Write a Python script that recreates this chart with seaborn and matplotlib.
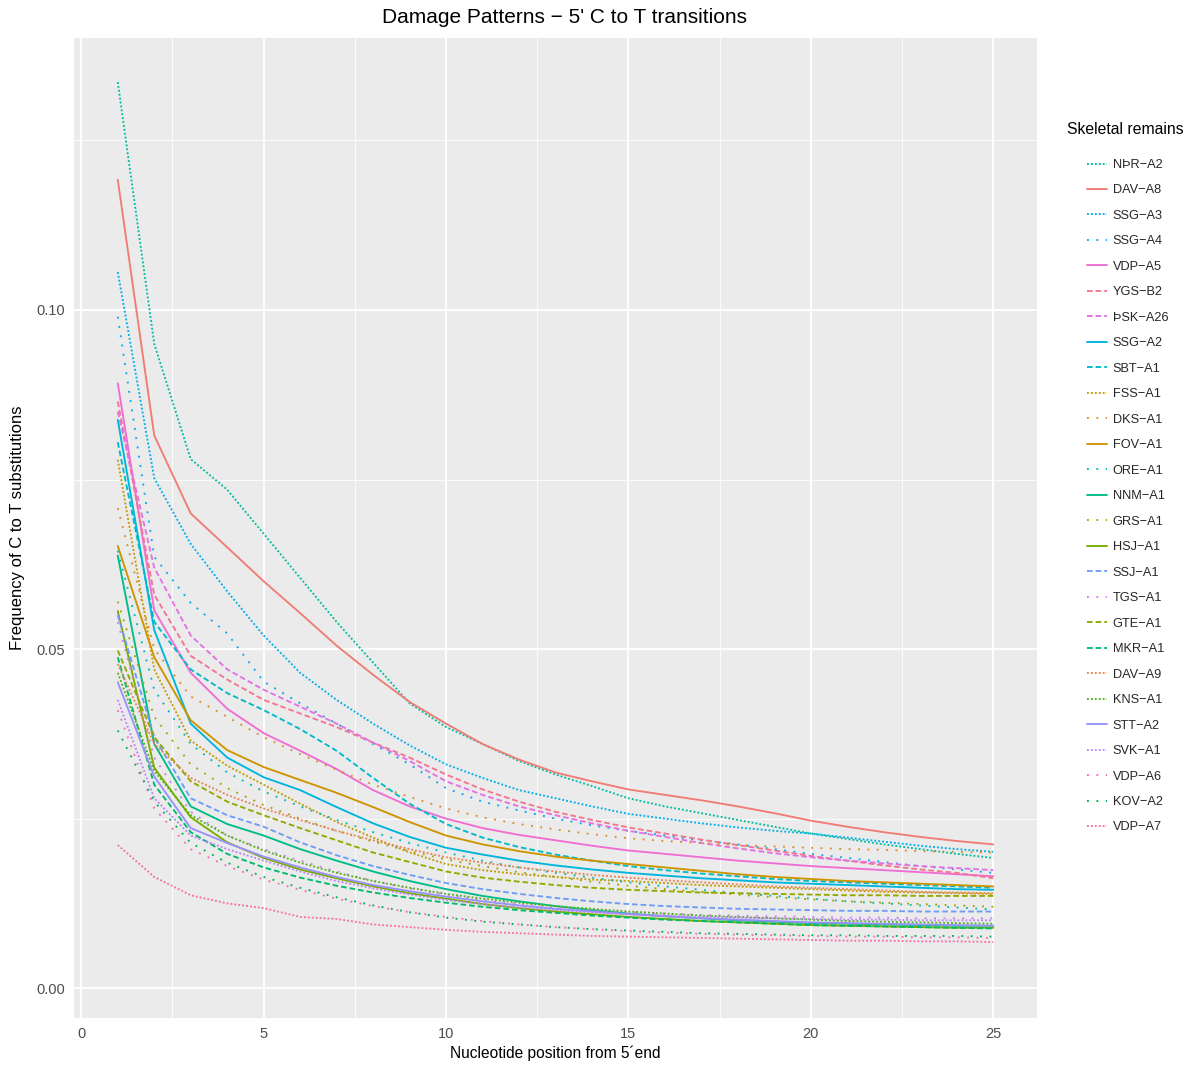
import numpy as np
import pandas as pd
import matplotlib
matplotlib.use("Agg")
import matplotlib.pyplot as plt
import seaborn as sns
from matplotlib.ticker import FixedLocator

# ---------------- data ----------------
positions = list(range(1, 26))

# legend order (descending frequency at position 1)
samples = ["NÞR-A2", "DAV-A8", "SSG-A3", "SSG-A4", "VDP-A5", "YGS-B2", "ÞSK-A26",
           "SSG-A2", "SBT-A1", "FSS-A1", "DKS-A1", "FOV-A1", "ORE-A1", "NNM-A1",
           "GRS-A1", "HSJ-A1", "SSJ-A1", "TGS-A1", "GTE-A1", "MKR-A1", "DAV-A9",
           "KNS-A1", "STT-A2", "SVK-A1", "VDP-A6", "KOV-A2", "VDP-A7"]

# factor order used for colour assignment (alphabetical, Þ collated as "th")
color_order = ["DAV-A8", "DAV-A9", "DKS-A1", "FOV-A1", "FSS-A1", "GRS-A1", "GTE-A1",
               "HSJ-A1", "KNS-A1", "KOV-A2", "MKR-A1", "NNM-A1", "NÞR-A2", "ORE-A1",
               "SBT-A1", "SSG-A2", "SSG-A3", "SSG-A4", "SSJ-A1", "STT-A2", "SVK-A1",
               "TGS-A1", "ÞSK-A26", "VDP-A5", "VDP-A6", "VDP-A7", "YGS-B2"]

nthr_a2 = [0.1336, 0.0950, 0.0780, 0.0735, 0.0670, 0.0605, 0.0540, 0.0480, 0.0420, 0.0385,
           0.0360, 0.0335, 0.0315, 0.0298, 0.0280, 0.0268, 0.0258, 0.0248, 0.0238, 0.0228,
           0.0220, 0.0212, 0.0205, 0.0198, 0.0192]
dav_a8 = [0.1192, 0.0815, 0.0700, 0.0650, 0.0600, 0.0553, 0.0505, 0.0462, 0.0422, 0.0390,
          0.0360, 0.0337, 0.0318, 0.0305, 0.0293, 0.0285, 0.0277, 0.0268, 0.0258, 0.0247,
          0.0238, 0.0230, 0.0223, 0.0217, 0.0212]
ssg_a3 = [0.1056, 0.0752, 0.0655, 0.0585, 0.0520, 0.0465, 0.0425, 0.0390, 0.0358, 0.0330,
          0.0310, 0.0292, 0.0280, 0.0268, 0.0257, 0.0250, 0.0243, 0.0237, 0.0232, 0.0228,
          0.0222, 0.0216, 0.0210, 0.0205, 0.0201]
ssg_a4 = [0.0990, 0.0636, 0.0568, 0.0523, 0.0452, 0.0420, 0.0390, 0.0360, 0.0330, 0.0295,
          0.0275, 0.0262, 0.0250, 0.0240, 0.0232, 0.0225, 0.0218, 0.0212, 0.0205, 0.0198,
          0.0192, 0.0186, 0.0180, 0.0175, 0.0170]
vdp_a5 = [0.0892, 0.0557, 0.0465, 0.0412, 0.0376, 0.0350, 0.0323, 0.0292, 0.0268, 0.0250,
          0.0236, 0.0226, 0.0218, 0.0210, 0.0203, 0.0198, 0.0193, 0.0188, 0.0184, 0.0180,
          0.0177, 0.0174, 0.0171, 0.0168, 0.0165]
ygs_b2 = [0.0865, 0.0580, 0.0490, 0.0455, 0.0425, 0.0405, 0.0385, 0.0362, 0.0340, 0.0315,
          0.0293, 0.0275, 0.0260, 0.0248, 0.0237, 0.0228, 0.0219, 0.0211, 0.0203, 0.0195,
          0.0188, 0.0181, 0.0175, 0.0170, 0.0162]
thsk_a26 = [0.0850, 0.0620, 0.0520, 0.0470, 0.0440, 0.0415, 0.0390, 0.0362, 0.0335, 0.0305,
            0.0285, 0.0268, 0.0255, 0.0243, 0.0232, 0.0223, 0.0214, 0.0206, 0.0199, 0.0193,
            0.0188, 0.0184, 0.0180, 0.0177, 0.0174]
ssg_a2 = [0.0838, 0.0528, 0.0390, 0.0340, 0.0311, 0.0292, 0.0267, 0.0243, 0.0223, 0.0207,
          0.0197, 0.0188, 0.0181, 0.0175, 0.0170, 0.0166, 0.0162, 0.0159, 0.0156, 0.0154,
          0.0152, 0.0150, 0.0148, 0.0146, 0.0145]
sbt_a1 = [0.0805, 0.0540, 0.0470, 0.0435, 0.0410, 0.0382, 0.0350, 0.0310, 0.0272, 0.0242,
          0.0222, 0.0208, 0.0197, 0.0188, 0.0180, 0.0174, 0.0169, 0.0165, 0.0161, 0.0158,
          0.0156, 0.0154, 0.0152, 0.0150, 0.0148]
fss_a1 = [0.0779, 0.0470, 0.0365, 0.0328, 0.0300, 0.0272, 0.0245, 0.0222, 0.0200, 0.0183,
          0.0174, 0.0168, 0.0164, 0.0160, 0.0158, 0.0155, 0.0152, 0.0150, 0.0148, 0.0146,
          0.0144, 0.0142, 0.0141, 0.0140, 0.0139]
dks_a1 = [0.0708, 0.0500, 0.0430, 0.0400, 0.0370, 0.0345, 0.0322, 0.0300, 0.0282, 0.0265,
          0.0252, 0.0242, 0.0234, 0.0227, 0.0221, 0.0217, 0.0214, 0.0211, 0.0209, 0.0207,
          0.0205, 0.0204, 0.0202, 0.0201, 0.0200]
fov_a1 = [0.0652, 0.0488, 0.0395, 0.0351, 0.0326, 0.0307, 0.0288, 0.0267, 0.0245, 0.0225,
          0.0212, 0.0202, 0.0194, 0.0188, 0.0183, 0.0178, 0.0173, 0.0168, 0.0164, 0.0161,
          0.0158, 0.0156, 0.0154, 0.0152, 0.0150]
ore_a1 = [0.0645, 0.0440, 0.0360, 0.0318, 0.0290, 0.0268, 0.0248, 0.0230, 0.0214, 0.0200,
          0.0188, 0.0178, 0.0170, 0.0163, 0.0156, 0.0150, 0.0145, 0.0140, 0.0136, 0.0132,
          0.0128, 0.0125, 0.0122, 0.0119, 0.0116]
nnm_a1 = [0.0638, 0.0360, 0.0268, 0.0242, 0.0225, 0.0205, 0.0188, 0.0172, 0.0158, 0.0146,
          0.0136, 0.0128, 0.0121, 0.0115, 0.0110, 0.0106, 0.0103, 0.0100, 0.0098, 0.0096,
          0.0095, 0.0094, 0.0093, 0.0092, 0.0092]
grs_a1 = [0.0570, 0.0400, 0.0330, 0.0295, 0.0270, 0.0250, 0.0232, 0.0216, 0.0202, 0.0190,
          0.0180, 0.0171, 0.0164, 0.0157, 0.0151, 0.0146, 0.0142, 0.0138, 0.0134, 0.0131,
          0.0128, 0.0126, 0.0124, 0.0122, 0.0120]
hsj_a1 = [0.0556, 0.0325, 0.0252, 0.0215, 0.0192, 0.0175, 0.0162, 0.0150, 0.0140, 0.0132,
          0.0124, 0.0118, 0.0113, 0.0109, 0.0105, 0.0102, 0.0099, 0.0097, 0.0095, 0.0093,
          0.0092, 0.0091, 0.0090, 0.0089, 0.0089]
ssj_a1 = [0.0550, 0.0370, 0.0280, 0.0255, 0.0238, 0.0215, 0.0196, 0.0180, 0.0167, 0.0155,
          0.0146, 0.0139, 0.0133, 0.0128, 0.0124, 0.0121, 0.0119, 0.0117, 0.0116, 0.0115,
          0.0114, 0.0114, 0.0113, 0.0113, 0.0113]
tgs_a1 = [0.0540, 0.0340, 0.0260, 0.0225, 0.0205, 0.0188, 0.0172, 0.0158, 0.0147, 0.0138,
          0.0130, 0.0124, 0.0119, 0.0115, 0.0112, 0.0110, 0.0108, 0.0107, 0.0106, 0.0105,
          0.0104, 0.0104, 0.0103, 0.0103, 0.0103]
gte_a1 = [0.0498, 0.0370, 0.0305, 0.0275, 0.0255, 0.0236, 0.0218, 0.0200, 0.0186, 0.0172,
          0.0163, 0.0157, 0.0152, 0.0148, 0.0145, 0.0143, 0.0141, 0.0140, 0.0139, 0.0138,
          0.0137, 0.0137, 0.0136, 0.0136, 0.0136]
mkr_a1 = [0.0488, 0.0300, 0.0230, 0.0198, 0.0178, 0.0163, 0.0151, 0.0141, 0.0133, 0.0126,
          0.0120, 0.0115, 0.0111, 0.0107, 0.0104, 0.0101, 0.0099, 0.0097, 0.0095, 0.0093,
          0.0092, 0.0091, 0.0090, 0.0089, 0.0088]
dav_a9 = [0.0478, 0.0360, 0.0310, 0.0285, 0.0265, 0.0248, 0.0232, 0.0218, 0.0205, 0.0193,
          0.0185, 0.0178, 0.0172, 0.0167, 0.0163, 0.0159, 0.0156, 0.0153, 0.0150, 0.0148,
          0.0146, 0.0144, 0.0142, 0.0141, 0.0140]
kns_a1 = [0.0465, 0.0320, 0.0255, 0.0225, 0.0203, 0.0185, 0.0170, 0.0158, 0.0148, 0.0139,
          0.0132, 0.0126, 0.0121, 0.0117, 0.0113, 0.0110, 0.0107, 0.0105, 0.0103, 0.0101,
          0.0099, 0.0098, 0.0097, 0.0096, 0.0095]
stt_a2 = [0.0451, 0.0312, 0.0236, 0.0214, 0.0194, 0.0178, 0.0164, 0.0152, 0.0143, 0.0135,
          0.0128, 0.0122, 0.0117, 0.0113, 0.0109, 0.0106, 0.0103, 0.0101, 0.0099, 0.0097,
          0.0096, 0.0095, 0.0094, 0.0093, 0.0092]
svk_a1 = [0.0425, 0.0280, 0.0225, 0.0205, 0.0188, 0.0172, 0.0158, 0.0147, 0.0138, 0.0130,
          0.0124, 0.0119, 0.0115, 0.0112, 0.0109, 0.0107, 0.0105, 0.0104, 0.0103, 0.0102,
          0.0101, 0.0101, 0.0100, 0.0100, 0.0100]
vdp_a6 = [0.0410, 0.0265, 0.0205, 0.0180, 0.0160, 0.0145, 0.0132, 0.0121, 0.0112, 0.0105,
          0.0099, 0.0094, 0.0090, 0.0087, 0.0084, 0.0082, 0.0080, 0.0079, 0.0078, 0.0077,
          0.0076, 0.0076, 0.0075, 0.0075, 0.0074]
kov_a2 = [0.0380, 0.0275, 0.0214, 0.0185, 0.0164, 0.0148, 0.0134, 0.0122, 0.0112, 0.0104,
          0.0098, 0.0094, 0.0090, 0.0087, 0.0085, 0.0083, 0.0081, 0.0080, 0.0079, 0.0078,
          0.0078, 0.0077, 0.0077, 0.0077, 0.0076]
vdp_a7 = [0.0211, 0.0164, 0.0137, 0.0125, 0.0118, 0.0105, 0.0102, 0.0094, 0.0090, 0.0086,
          0.0083, 0.0081, 0.0079, 0.0077, 0.0076, 0.0075, 0.0074, 0.0073, 0.0072, 0.0071,
          0.0070, 0.0070, 0.0069, 0.0069, 0.0068]

series = {
    "NÞR-A2": nthr_a2, "DAV-A8": dav_a8, "SSG-A3": ssg_a3, "SSG-A4": ssg_a4,
    "VDP-A5": vdp_a5, "YGS-B2": ygs_b2, "ÞSK-A26": thsk_a26, "SSG-A2": ssg_a2,
    "SBT-A1": sbt_a1, "FSS-A1": fss_a1, "DKS-A1": dks_a1, "FOV-A1": fov_a1,
    "ORE-A1": ore_a1, "NNM-A1": nnm_a1, "GRS-A1": grs_a1, "HSJ-A1": hsj_a1,
    "SSJ-A1": ssj_a1, "TGS-A1": tgs_a1, "GTE-A1": gte_a1, "MKR-A1": mkr_a1,
    "DAV-A9": dav_a9, "KNS-A1": kns_a1, "STT-A2": stt_a2, "SVK-A1": svk_a1,
    "VDP-A6": vdp_a6, "KOV-A2": kov_a2, "VDP-A7": vdp_a7,
}

# line kind per sample (legend order)
line_kinds = ["fine", "solid", "fine", "sparse", "solid", "dash", "dash",
              "solid", "dash", "fine", "sparse", "solid", "sparse", "solid",
              "sparse", "solid", "dash", "sparse", "dash", "dash", "fine",
              "fine", "solid", "fine", "sparse", "sparse", "fine"]

# ---------------- styling helpers ----------------
def hcl_hex(h, c=100.0, l=65.0):
    hr = np.deg2rad(h)
    u, v = c * np.cos(hr), c * np.sin(hr)
    Xn, Yn, Zn = 95.047, 100.0, 108.883
    Y = Yn * ((l + 16) / 116) ** 3
    den = Xn + 15 * Yn + 3 * Zn
    un, vn = 4 * Xn / den, 9 * Yn / den
    up, vp = u / (13 * l) + un, v / (13 * l) + vn
    X = 9 * Y * up / (4 * vp)
    Z = Y * (12 - 3 * up - 20 * vp) / (4 * vp)
    M = np.array([[3.2404542, -1.5371385, -0.4985314],
                  [-0.9692660, 1.8760108, 0.0415560],
                  [0.0556434, -0.2040259, 1.0572252]])
    rgb = M @ (np.array([X, Y, Z]) / 100.0)
    rgb = np.where(rgb > 0.0031308, 1.055 * np.sign(rgb) * np.abs(rgb) ** (1 / 2.4) - 0.055, 12.92 * rgb)
    rgb = np.clip(rgb, 0, 1)
    return matplotlib.colors.to_hex(rgb)

n = len(color_order)
palette = {name: hcl_hex(15 + k * 360.0 / n, c=88.0) for k, name in enumerate(color_order)}

dash_styles = {"solid": "", "fine": (1.0, 1.1), "sparse": (1.0, 4.0), "dash": (3.0, 1.6)}
dashes = {s: dash_styles[k] for s, k in zip(samples, line_kinds)}

# ---------------- dataframe ----------------
rows = []
for s in samples:
    for p, v in zip(positions, series[s]):
        rows.append({"position": p, "freq": v, "sample": s})
df = pd.DataFrame(rows)

# ---------------- plot ----------------
sns.set_theme(style="darkgrid")
plt.rcParams["font.family"] = ["Liberation Sans", "DejaVu Sans"]

W, H = 1191, 1066
fig = plt.figure(figsize=(W / 100, H / 100), dpi=100)
ax = fig.add_axes([74 / W, 1 - 1018 / H, (1037 - 74) / W, (1018 - 38) / H])
ax.set_facecolor("#EBEBEB")

sns.lineplot(data=df, x="position", y="freq", hue="sample", style="sample",
             hue_order=samples, style_order=samples, palette=palette,
             dashes=dashes, linewidth=1.35, ax=ax, legend=True)

ax.set_xlim(-0.2, 26.2)
ax.set_ylim(-0.0044, 0.1401)
ax.xaxis.set_major_locator(FixedLocator([0, 5, 10, 15, 20, 25]))
ax.xaxis.set_minor_locator(FixedLocator([2.5, 7.5, 12.5, 17.5, 22.5]))
ax.yaxis.set_major_locator(FixedLocator([0.0, 0.05, 0.10]))
ax.yaxis.set_minor_locator(FixedLocator([0.025, 0.075, 0.125]))
ax.set_yticklabels(["0.00", "0.05", "0.10"])
ax.grid(which="major", color="white", linewidth=1.3)
ax.grid(which="minor", color="white", linewidth=0.6)
ax.set_axisbelow(True)
for sp in ax.spines.values():
    sp.set_visible(False)
ax.tick_params(axis="both", which="major", length=3.5, width=0.8, color="#333333",
               labelcolor="#4D4D4D", labelsize=10.5, pad=3)
ax.tick_params(axis="both", which="minor", length=0)

ax.set_xlabel("Nucleotide position from 5\u00b4end", fontsize=11.2, color="black", labelpad=3)
ax.set_ylabel("Frequency of C to T substitutions", fontsize=12, color="black", labelpad=8)
ax.set_title("Damage Patterns \u2212 5' C to T transitions", fontsize=15, color="black",
             pad=11, x=(564 - 74) / (1037 - 74))

handles, labels = ax.get_legend_handles_labels()
pairs = [(h, l) for h, l in zip(handles, labels) if l in samples]
ax.get_legend().remove()
fig.text(1125 / W, 1 - 130 / H, "Skeletal remains", ha="center", va="center",
         fontsize=11.3, color="black")
leg = fig.legend([h for h, _ in pairs], [l.replace("-", "\u2212") for _, l in pairs],
                 loc="upper left", bbox_to_anchor=(1087 / W, 1 - 159 / H),
                 frameon=False, fontsize=9.2, borderpad=0,
                 handlelength=1.6, handletextpad=0.4, labelspacing=1.055,
                 borderaxespad=0)
for h in leg.legend_handles:
    h.set_linewidth(1.35)

fig.savefig("out.png", dpi=100)
